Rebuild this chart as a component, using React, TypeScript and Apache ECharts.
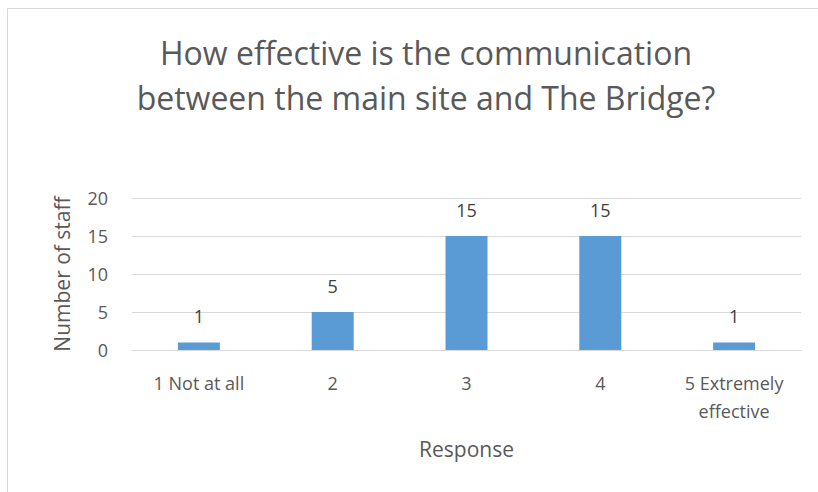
import React, { useEffect, useRef } from "react";
import * as echarts from "echarts";

const categories = ["1 Not at all", "2", "3", "4", "5 Extremely\neffective"];
const values = [1, 5, 15, 15, 1];
const titleLines = ["How effective is the communication", "between the main site and The Bridge?"];
const yTicks = { min: 0, max: 20, interval: 5 };

const FONT = "'Open Sans', 'Noto Sans', sans-serif";

export default function App() {
  const ref = useRef<HTMLDivElement>(null);
  useEffect(() => {
    if (!ref.current) return;
    const chart = echarts.init(ref.current, undefined, { renderer: "svg" });
    chart.setOption({
      animation: false,
      backgroundColor: "#ffffff",
      title: {
        text: titleLines.join("\n"),
        left: 421,
        top: 25,
        textAlign: "center",
        textStyle: {
          fontFamily: FONT,
          fontSize: 32,
          fontWeight: "normal",
          color: "#595959",
          lineHeight: 45,
        },
      },
      graphic: [
        {
          type: "rect",
          shape: { x: 7.5, y: 8.5, width: 830, height: 500 },
          style: { fill: "none", stroke: "#d9d9d9", lineWidth: 1 },
          silent: true,
        },
      ],
      grid: { left: 132, right: 17, top: 198, bottom: 142 },
      xAxis: {
        type: "category",
        data: categories,
        name: "Response",
        nameLocation: "middle",
        nameGap: 88,
        nameTextStyle: { fontFamily: FONT, fontSize: 21, color: "#595959" },
        axisLine: { lineStyle: { color: "#d9d9d9" } },
        axisTick: { show: false },
        axisLabel: {
          fontFamily: FONT,
          fontSize: 18,
          color: "#595959",
          margin: 19,
          lineHeight: 28,
          interval: 0,
        },
      },
      yAxis: {
        type: "value",
        min: yTicks.min,
        max: yTicks.max,
        interval: yTicks.interval,
        name: "Number of staff",
        nameLocation: "middle",
        nameGap: 60,
        nameTextStyle: { fontFamily: FONT, fontSize: 21, color: "#595959" },
        axisLine: { show: false },
        axisTick: { show: false },
        splitLine: { lineStyle: { color: "#d9d9d9" } },
        axisLabel: { fontFamily: FONT, fontSize: 18, color: "#595959", margin: 24 },
      },
      series: [
        {
          type: "bar",
          data: values,
          barWidth: 42,
          itemStyle: { color: "#5b9bd5" },
          label: {
            show: true,
            position: "top",
            distance: 17,
            fontFamily: FONT,
            fontSize: 18,
            color: "#404040",
          },
        },
      ],
    });
    return () => chart.dispose();
  }, []);
  return (
    <div
      ref={ref}
      style={{ position: "absolute", left: 0, top: 0, width: 818, height: 492 }}
    />
  );
}
